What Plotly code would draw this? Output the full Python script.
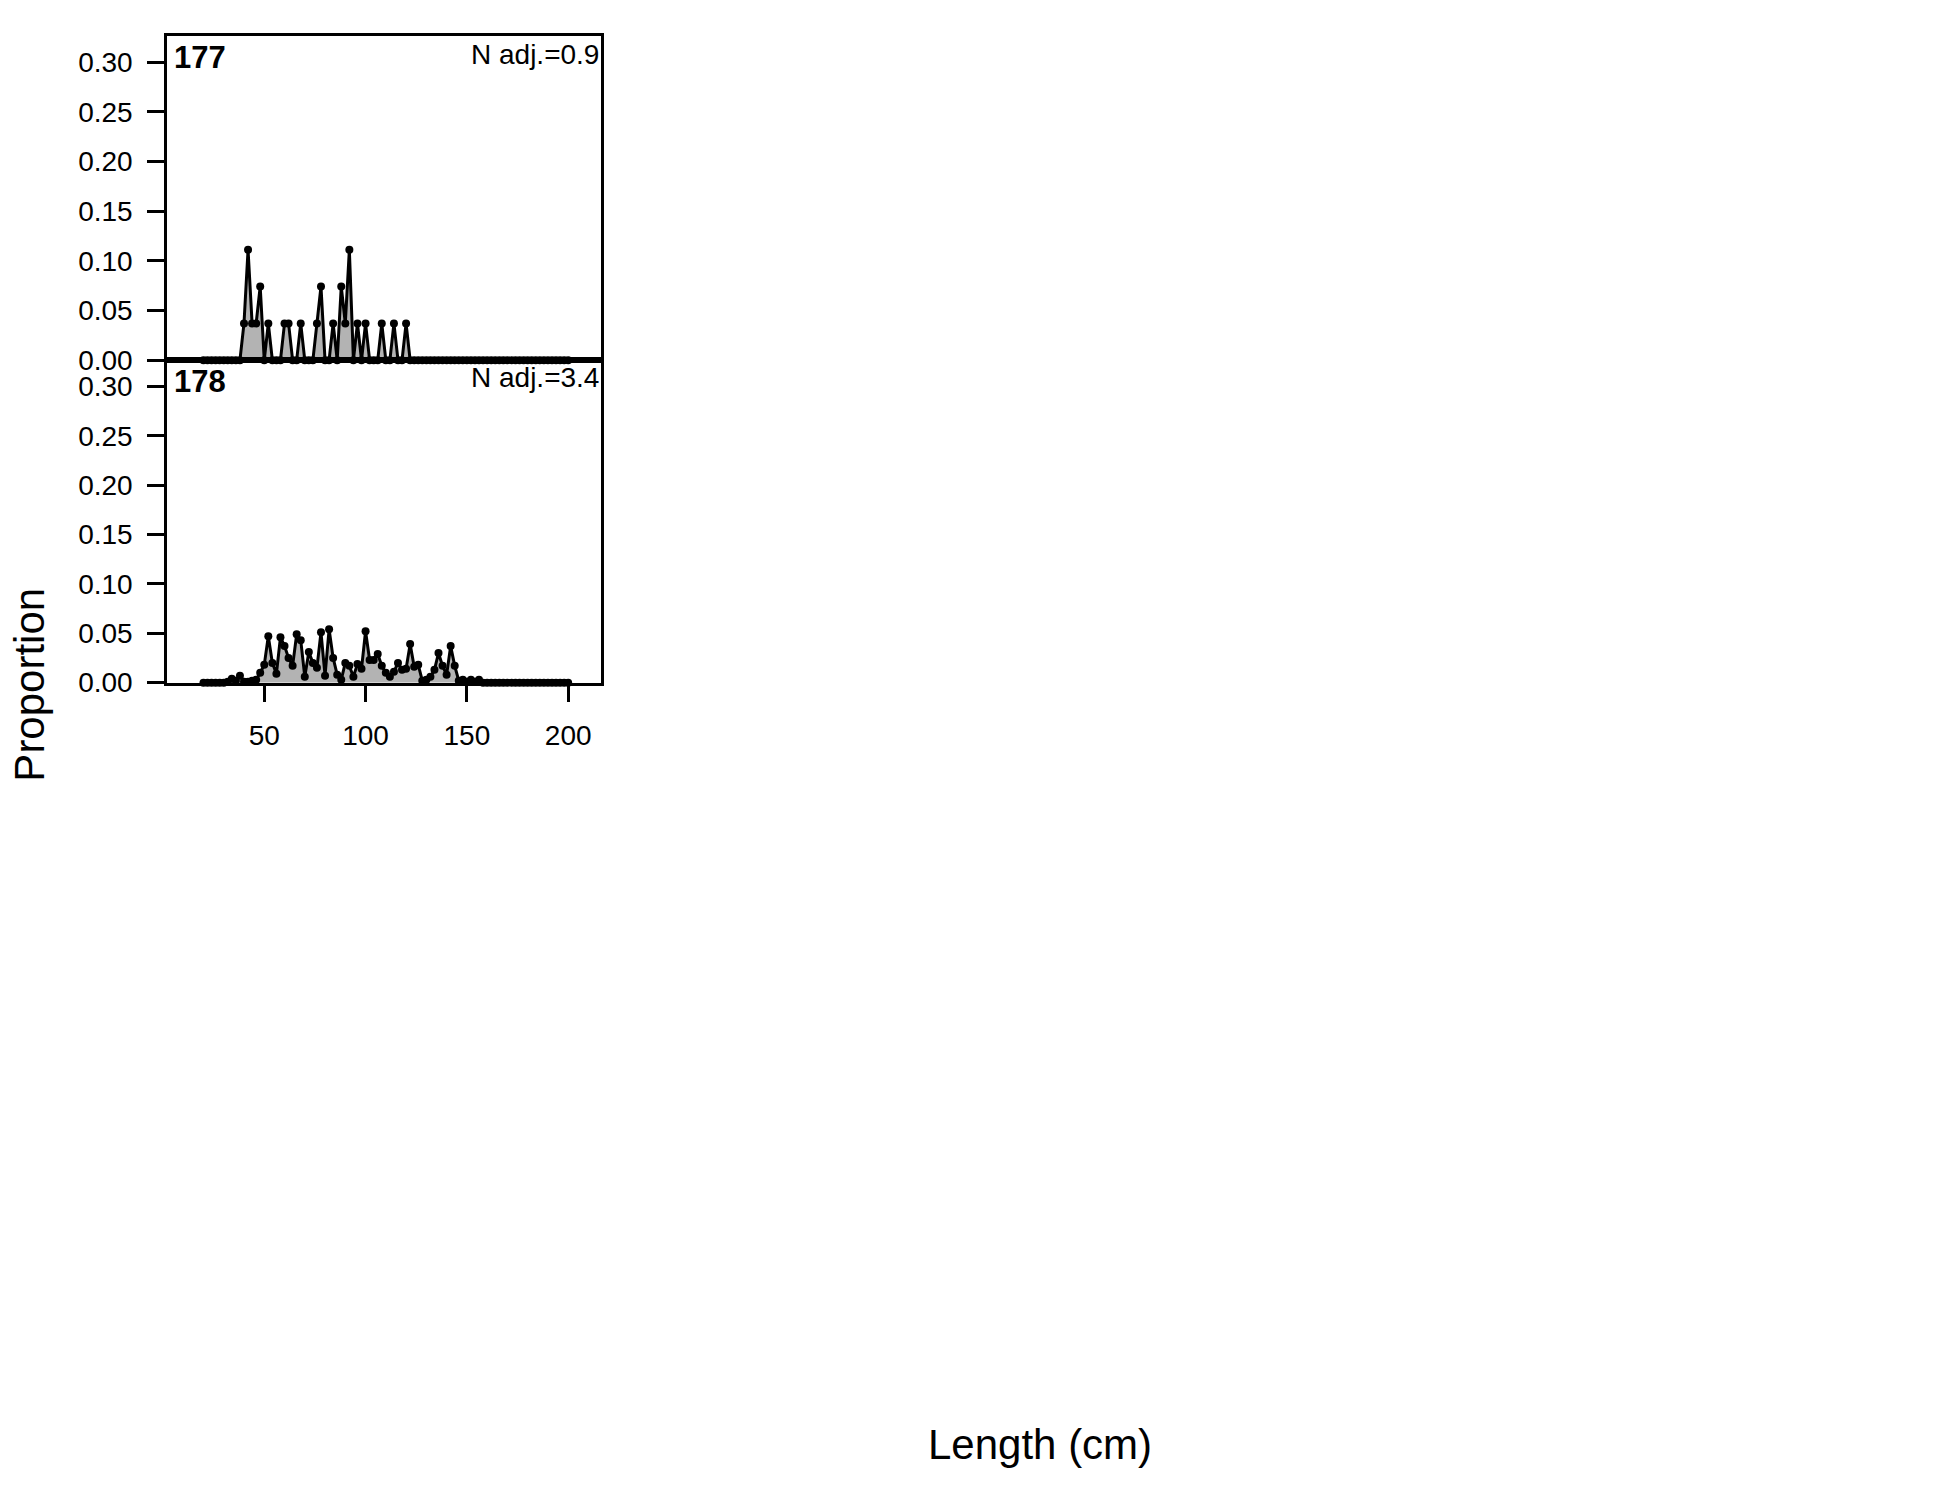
import plotly.graph_objects as go

# ---------------- data ----------------
lengths = list(range(20, 201, 2))

prop_177 = [
    0, 0, 0, 0, 0, 0, 0, 0, 0, 0,                       # 20-38
    0.0370, 0.1111, 0.0370, 0.0370, 0.0741, 0, 0.0370, 0, 0, 0,   # 40-58
    0.0370, 0.0370, 0, 0, 0.0370, 0, 0, 0, 0.0370, 0.0741,        # 60-78
    0, 0, 0.0370, 0, 0.0741, 0.0370, 0.1111, 0, 0.0370, 0,        # 80-98
    0.0370, 0, 0, 0, 0.0370, 0, 0, 0.0370, 0, 0,                  # 100-118
    0.0370,                                                       # 120
] + [0] * 40                                                      # 122-200

prop_178 = [0] * 6 + [                                            # 20-30
    0.001, 0.004, 0.002, 0.007, 0.001, 0.001, 0.002, 0.003, 0.010, 0.018,   # 32-50
    0.047, 0.020, 0.009, 0.046, 0.037, 0.025, 0.017, 0.049, 0.043, 0.006,   # 52-70
    0.031, 0.020, 0.015, 0.051, 0.007, 0.054, 0.025, 0.008, 0.003, 0.020,   # 72-90
    0.017, 0.006, 0.019, 0.014, 0.052, 0.023, 0.023, 0.029, 0.017, 0.010,   # 92-110
    0.006, 0.011, 0.020, 0.013, 0.014, 0.039, 0.016, 0.018, 0.002, 0.003,   # 112-130
    0.006, 0.013, 0.030, 0.017, 0.008, 0.037, 0.017, 0.002, 0.003, 0.001,   # 132-150
    0.003, 0.001, 0.003,                                                    # 152-156
] + [0] * 22                                                      # 158-200

panel_labels = ["177", "178"]
nadj_labels = ["N adj.=0.9", "N adj.=3.4"]
y_ticks = [0.00, 0.05, 0.10, 0.15, 0.20, 0.25, 0.30]
x_ticks = [50, 100, 150, 200]

# ---------------- layout helpers ----------------
OFF = 8                      # page body margin (both sides)
W, H = 1950 - 2 * OFF, 1500 - 2 * OFF
FONT = "Liberation Sans, Arial, sans-serif"
px = lambda x: (x - OFF) / W
py = lambda y: 1 - (y - OFF) / H

box_left, box_right = 167, 601
panel_tops = [36, 364]
panel_bottoms = [364, 690]

fig = go.Figure()
series = [prop_177, prop_178]
for i, vals in enumerate(series):
    xa = "x" if i == 0 else f"x{i+1}"
    ya = "y" if i == 0 else f"y{i+1}"
    fig.add_trace(go.Scatter(
        x=lengths, y=vals, mode="lines+markers",
        fill="tozeroy", fillcolor="#B3B3B3",
        line=dict(color="black", width=3),
        marker=dict(color="black", size=8),
        xaxis=xa, yaxis=ya, showlegend=False, hoverinfo="skip",
        cliponaxis=False,
    ))

layout = dict(
    width=W, height=H,
    margin=dict(l=0, r=0, t=0, b=0),
    paper_bgcolor="white", plot_bgcolor="white",
    showlegend=False,
    font=dict(family=FONT, color="black", size=28),
)

for i in range(2):
    xk = "xaxis" if i == 0 else f"xaxis{i+1}"
    yk = "yaxis" if i == 0 else f"yaxis{i+1}"
    ya = "y" if i == 0 else f"y{i+1}"
    xa = "x" if i == 0 else f"x{i+1}"
    layout[xk] = dict(
        domain=[px(box_left), px(box_right)],
        range=[2.0, 216.2], anchor=ya,
        showgrid=False, zeroline=False,
        showline=True, mirror=True, linecolor="black", linewidth=2.5,
        tickvals=x_ticks if i == 1 else [],
        ticktext=[str(v) for v in x_ticks] if i == 1 else [],
        ticks="outside" if i == 1 else "",
        ticklen=17, tickwidth=2.5, tickcolor="black",
        showticklabels=(i == 1),
        tickfont=dict(family=FONT, size=28, color="black"),
        ticklabelstandoff=9,
    )
    layout[yk] = dict(
        domain=[py(panel_bottoms[i]), py(panel_tops[i])],
        range=[0, 0.3265], anchor=xa,
        showgrid=False, zeroline=False,
        showline=True, mirror=True, linecolor="black", linewidth=2.5,
        tickvals=y_ticks, ticktext=[f"{v:.2f}" for v in y_ticks],
        ticks="outside", ticklen=17, tickwidth=2.5, tickcolor="black",
        tickfont=dict(family=FONT, size=28, color="black"),
        ticklabelstandoff=9,
    )

annotations = []
label_y = [58, 386]
nadj_y = [55, 382]
for i in range(2):
    annotations.append(dict(
        text=f"<b>{panel_labels[i]}</b>", x=px(172), y=py(label_y[i]),
        xref="paper", yref="paper", xanchor="left", yanchor="middle",
        showarrow=False, font=dict(family=FONT, size=31, color="black"),
    ))
    annotations.append(dict(
        text=nadj_labels[i], x=px(601), y=py(nadj_y[i]),
        xref="paper", yref="paper", xanchor="right", yanchor="middle",
        showarrow=False, font=dict(family=FONT, size=28, color="black"),
    ))
annotations.append(dict(
    text="Length (cm)", x=px(1040), y=py(1460),
    xref="paper", yref="paper", xanchor="center", yanchor="middle",
    showarrow=False, font=dict(family=FONT, size=42, color="black"),
))
annotations.append(dict(
    text="Proportion", x=px(30), y=py(692), textangle=-90,
    xref="paper", yref="paper", xanchor="center", yanchor="middle",
    showarrow=False, font=dict(family=FONT, size=42, color="black"),
))
layout["annotations"] = annotations

fig.update_layout(**layout)
fig.write_html("out.html")
